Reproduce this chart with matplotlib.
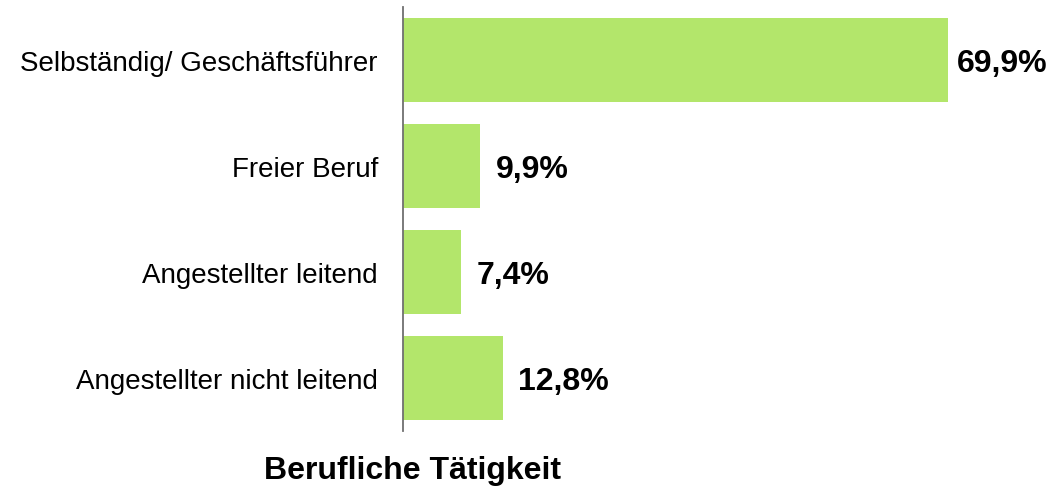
import matplotlib.pyplot as plt

# Data
categories = ["Selbständig/ Geschäftsführer", "Freier Beruf",
              "Angestellter leitend", "Angestellter nicht leitend"]
values = [69.9, 9.9, 7.4, 12.8]
value_labels = ["69,9%", "9,9%", "7,4%", "12,8%"]

plt.rcParams["font.family"] = ["Liberation Sans", "DejaVu Sans"]

fig = plt.figure(figsize=(10.56, 4.89), dpi=100)
ax = fig.add_axes([403 / 1056, 57 / 489, 1 - 403 / 1056, 424 / 489])

pos = list(range(len(categories)))
ax.barh(pos, values, height=0.8, color="#b3e66b")

for p, v, lab in zip(pos, values, value_labels):
    off = 1.1 if v > 60 else 2.0  # long bar: label squeezed near the edge
    ax.text(v + off, p + 0.03, lab, ha="left", va="center",
            fontsize=23, fontweight="bold", color="black", clip_on=False)

ax.set_yticks(pos)
ax.set_yticklabels(categories, fontsize=20)
ax.tick_params(axis="y", length=0, pad=18)
ax.set_xticks([])
ax.set_xlim(0, 653 / 7.8)
ax.set_ylim(3.5, -0.5)

for s in ["top", "right", "bottom"]:
    ax.spines[s].set_visible(False)
ax.spines["left"].set_color("#707070")
ax.spines["left"].set_linewidth(1.3)

fig.text(412 / 1056, 1 - 471 / 489, "Berufliche Tätigkeit", ha="center",
         va="center", fontsize=23, fontweight="bold")

fig.savefig("out.png", dpi=100)
